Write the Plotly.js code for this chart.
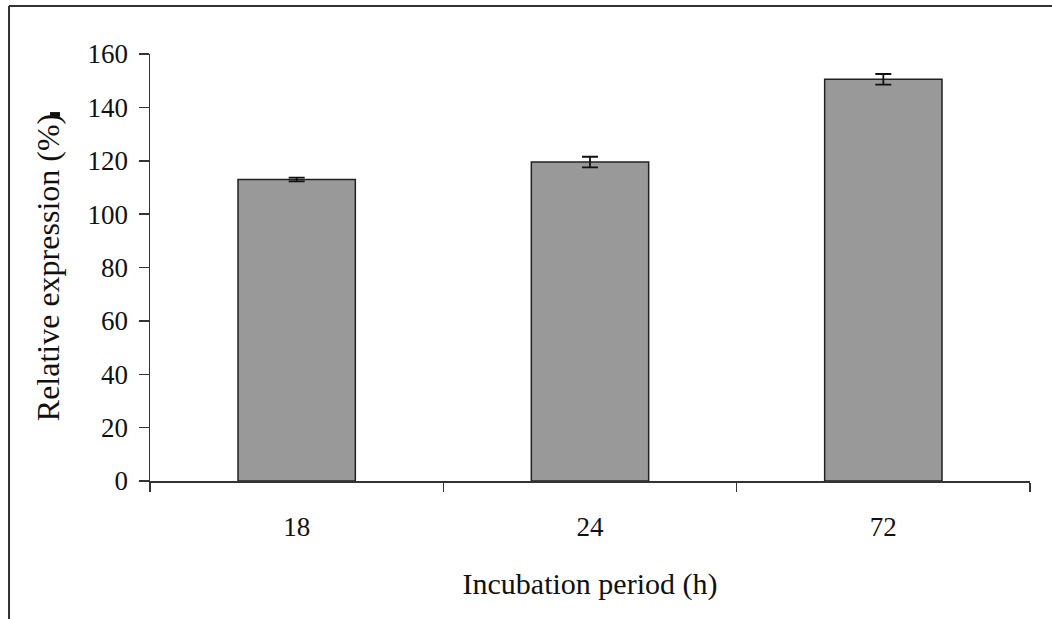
<!DOCTYPE html>
<html>
<head>
<meta charset="utf-8">
<script src="https://cdn.plot.ly/plotly-3.0.1.min.js"></script>
<style>
  html, body { margin: 0; padding: 0; background: #fff; }
  #chart { width: 1052px; height: 619px; }
</style>
</head>
<body>
<div id="chart"></div>
<script>
const categories = ["18", "24", "72"];
const expression = [113, 119.5, 150.5];
const errors = [0.7, 2, 2];
const yTicks = [0, 20, 40, 60, 80, 100, 120, 140, 160];

const font = "Liberation Serif, Times New Roman, serif";

const trace = {
  type: "bar",
  x: categories,
  y: expression,
  width: 0.4,
  marker: { color: "#999999", line: { color: "#222222", width: 1.5 } },
  error_y: { type: "data", array: errors, visible: true, color: "#111111", thickness: 1.8, width: 8 },
  hoverinfo: "skip"
};

const layout = {
  width: 1052, height: 619,
  margin: { l: 150, r: 22, t: 54, b: 138 },
  paper_bgcolor: "#ffffff",
  plot_bgcolor: "#ffffff",
  showlegend: false,
  font: { family: font, size: 27, color: "#111111" },
  xaxis: {
    type: "category",
    tickson: "boundaries",
    ticks: "outside", ticklen: 9, tickwidth: 1.5, tickcolor: "#333",
    showline: true, linecolor: "#333", linewidth: 1.5,
    showgrid: false, zeroline: false,
    tickfont: { family: font, size: 27 },
    ticklabelstandoff: 21,
    title: { text: "Incubation period (h)", font: { family: font, size: 30 }, standoff: 32 }
  },
  yaxis: {
    range: [0, 160],
    tickvals: yTicks,
    ticktext: yTicks.map(String),
    ticks: "outside", ticklen: 10, tickwidth: 1.5, tickcolor: "#333",
    showline: true, linecolor: "#333", linewidth: 1.5,
    showgrid: false, zeroline: false,
    tickfont: { family: font, size: 27 },
    ticklabelstandoff: 5,
    title: { text: "Relative expression (%)", font: { family: font, size: 32 }, standoff: 18 }
  },
  shapes: [
    { type: "line", xref: "paper", yref: "paper", x0: -0.1602, x1: 1.04, y0: 1.1124, y1: 1.1124, line: { color: "#333", width: 2 } },
    { type: "line", xref: "paper", yref: "paper", x0: -0.1602, x1: -0.1602, y0: 1.1124, y1: -0.33, line: { color: "#333", width: 2 } },
    { type: "rect", xref: "paper", yref: "paper", x0: -0.1136, x1: -0.1023, y0: 0.853, y1: 0.864, fillcolor: "#111", line: { width: 0 } }
  ]
};

Plotly.newPlot("chart", [trace], layout, { displayModeBar: false, staticPlot: true });
</script>
</body>
</html>
